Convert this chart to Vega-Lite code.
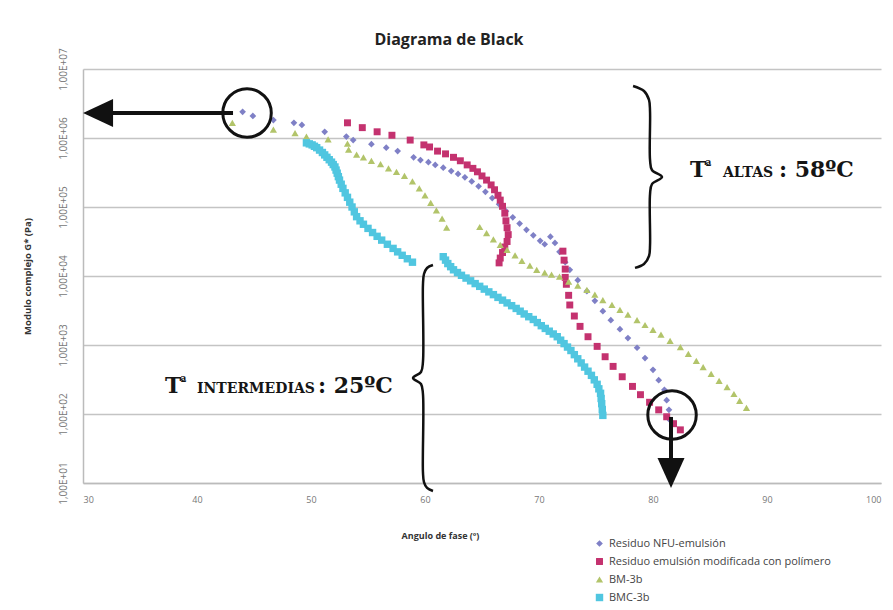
{
"$schema": "https://vega.github.io/schema/vega-lite/v6.json",
"width": 798, "height": 414,
"autosize": {"type": "none"},
"padding": {"left": 83, "top": 69, "right": 12, "bottom": 127},
"background": "white",
"title": {"text": "Diagrama de Black", "font": "Open Sans", "fontSize": 16, "fontWeight": "bold", "color": "#222222", "anchor": "middle", "dx": -33, "offset": 0},
"config": {"view": {"stroke": null}},
"datasets": {
"pts": [
{"s":"Residuo NFU-emulsión","a":44.0,"G":2399000},{"s":"Residuo NFU-emulsión","a":44.9,"G":2089000},{"s":"Residuo NFU-emulsión","a":46.7,"G":1820000},{"s":"Residuo NFU-emulsión","a":48.5,"G":1660000},{"s":"Residuo NFU-emulsión","a":49.2,"G":1549000},{"s":"Residuo NFU-emulsión","a":51.2,"G":1230000},{"s":"Residuo NFU-emulsión","a":53.1,"G":1047000},{"s":"Residuo NFU-emulsión","a":53.7,"G":933300},{"s":"Residuo NFU-emulsión","a":55.3,"G":812800},{"s":"Residuo NFU-emulsión","a":56.6,"G":724400},{"s":"Residuo NFU-emulsión","a":57.6,"G":645700},{"s":"Residuo NFU-emulsión","a":59.0,"G":524800},{"s":"Residuo NFU-emulsión","a":59.6,"G":478600},{"s":"Residuo NFU-emulsión","a":60.3,"G":446700},{"s":"Residuo NFU-emulsión","a":60.9,"G":407400},{"s":"Residuo NFU-emulsión","a":61.6,"G":371500},{"s":"Residuo NFU-emulsión","a":62.3,"G":331100},{"s":"Residuo NFU-emulsión","a":62.9,"G":302000},{"s":"Residuo NFU-emulsión","a":63.5,"G":269200},{"s":"Residuo NFU-emulsión","a":64.1,"G":234400},{"s":"Residuo NFU-emulsión","a":64.7,"G":199500},{"s":"Residuo NFU-emulsión","a":65.3,"G":166000},{"s":"Residuo NFU-emulsión","a":65.9,"G":134900},{"s":"Residuo NFU-emulsión","a":66.5,"G":109600},{"s":"Residuo NFU-emulsión","a":67.1,"G":87100},{"s":"Residuo NFU-emulsión","a":67.7,"G":70790},{"s":"Residuo NFU-emulsión","a":68.3,"G":57540},{"s":"Residuo NFU-emulsión","a":68.9,"G":46770},{"s":"Residuo NFU-emulsión","a":69.5,"G":38900},{"s":"Residuo NFU-emulsión","a":70.1,"G":32360},{"s":"Residuo NFU-emulsión","a":70.5,"G":28840},{"s":"Residuo NFU-emulsión","a":71.0,"G":37150},{"s":"Residuo NFU-emulsión","a":71.4,"G":30200},{"s":"Residuo NFU-emulsión","a":71.8,"G":22390},{"s":"Residuo NFU-emulsión","a":72.3,"G":15850},{"s":"Residuo NFU-emulsión","a":72.7,"G":12300},{"s":"Residuo NFU-emulsión","a":73.4,"G":8710},{"s":"Residuo NFU-emulsión","a":74.2,"G":6026},{"s":"Residuo NFU-emulsión","a":74.9,"G":4365},{"s":"Residuo NFU-emulsión","a":75.6,"G":3090},{"s":"Residuo NFU-emulsión","a":76.3,"G":2291},{"s":"Residuo NFU-emulsión","a":77.1,"G":1698},{"s":"Residuo NFU-emulsión","a":77.8,"G":1259},{"s":"Residuo NFU-emulsión","a":78.6,"G":912},{"s":"Residuo NFU-emulsión","a":79.3,"G":645.7},{"s":"Residuo NFU-emulsión","a":80.0,"G":436.5},{"s":"Residuo NFU-emulsión","a":80.5,"G":309},{"s":"Residuo NFU-emulsión","a":81.0,"G":223.9},{"s":"Residuo NFU-emulsión","a":81.2,"G":158.5},{"s":"Residuo NFU-emulsión","a":81.4,"G":114.8},{"s":"Residuo NFU-emulsión","a":81.5,"G":81.3},
{"s":"Residuo emulsión modificada con polímero","a":53.2,"G":1660000},{"s":"Residuo emulsión modificada con polímero","a":54.5,"G":1413000},{"s":"Residuo emulsión modificada con polímero","a":55.8,"G":1230000},{"s":"Residuo emulsión modificada con polímero","a":57.1,"G":1096000},{"s":"Residuo emulsión modificada con polímero","a":58.7,"G":933300},{"s":"Residuo emulsión modificada con polímero","a":59.9,"G":794300},{"s":"Residuo emulsión modificada con polímero","a":60.4,"G":741300},{"s":"Residuo emulsión modificada con polímero","a":61.1,"G":645700},{"s":"Residuo emulsión modificada con polímero","a":61.8,"G":588800},{"s":"Residuo emulsión modificada con polímero","a":62.5,"G":524800},{"s":"Residuo emulsión modificada con polímero","a":63.1,"G":467700},{"s":"Residuo emulsión modificada con polímero","a":63.7,"G":407400},{"s":"Residuo emulsión modificada con polímero","a":64.2,"G":363100},{"s":"Residuo emulsión modificada con polímero","a":64.6,"G":323600},{"s":"Residuo emulsión modificada con polímero","a":65.0,"G":281800},{"s":"Residuo emulsión modificada con polímero","a":65.4,"G":245500},{"s":"Residuo emulsión modificada con polímero","a":65.8,"G":208900},{"s":"Residuo emulsión modificada con polímero","a":66.1,"G":177800},{"s":"Residuo emulsión modificada con polímero","a":66.4,"G":147900},{"s":"Residuo emulsión modificada con polímero","a":66.6,"G":125900},{"s":"Residuo emulsión modificada con polímero","a":66.8,"G":102300},{"s":"Residuo emulsión modificada con polímero","a":67.0,"G":81280},{"s":"Residuo emulsión modificada con polímero","a":67.1,"G":63100},{"s":"Residuo emulsión modificada con polímero","a":67.2,"G":50120},{"s":"Residuo emulsión modificada con polímero","a":67.3,"G":39810},{"s":"Residuo emulsión modificada con polímero","a":67.2,"G":31620},{"s":"Residuo emulsión modificada con polímero","a":67.0,"G":26300},{"s":"Residuo emulsión modificada con polímero","a":66.8,"G":21880},{"s":"Residuo emulsión modificada con polímero","a":66.6,"G":18200},{"s":"Residuo emulsión modificada con polímero","a":66.5,"G":15490},
{"s":"Residuo emulsión modificada con polímero","a":72.1,"G":22910},{"s":"Residuo emulsión modificada con polímero","a":72.2,"G":16980},{"s":"Residuo emulsión modificada con polímero","a":72.3,"G":12590},{"s":"Residuo emulsión modificada con polímero","a":72.3,"G":9550},{"s":"Residuo emulsión modificada con polímero","a":72.4,"G":7586},{"s":"Residuo emulsión modificada con polímero","a":72.6,"G":5248},{"s":"Residuo emulsión modificada con polímero","a":72.7,"G":3802},{"s":"Residuo emulsión modificada con polímero","a":73.1,"G":2630},{"s":"Residuo emulsión modificada con polímero","a":73.6,"G":1862},{"s":"Residuo emulsión modificada con polímero","a":74.3,"G":1318},{"s":"Residuo emulsión modificada con polímero","a":75.1,"G":955},{"s":"Residuo emulsión modificada con polímero","a":75.8,"G":676.1},{"s":"Residuo emulsión modificada con polímero","a":76.5,"G":489.8},{"s":"Residuo emulsión modificada con polímero","a":77.3,"G":346.7},{"s":"Residuo emulsión modificada con polímero","a":78.2,"G":251.2},{"s":"Residuo emulsión modificada con polímero","a":78.9,"G":190.5},{"s":"Residuo emulsión modificada con polímero","a":79.7,"G":147.9},{"s":"Residuo emulsión modificada con polímero","a":80.5,"G":114.8},{"s":"Residuo emulsión modificada con polímero","a":81.2,"G":91.2},{"s":"Residuo emulsión modificada con polímero","a":81.8,"G":72.4},{"s":"Residuo emulsión modificada con polímero","a":82.4,"G":58.9},
{"s":"BM-3b","a":43.1,"G":1660000},{"s":"BM-3b","a":46.7,"G":1318000},{"s":"BM-3b","a":48.6,"G":1175000},{"s":"BM-3b","a":49.6,"G":1047000},{"s":"BM-3b","a":51.5,"G":955000},{"s":"BM-3b","a":53.2,"G":831800},{"s":"BM-3b","a":53.3,"G":676100},{"s":"BM-3b","a":54.0,"G":575400},{"s":"BM-3b","a":54.6,"G":524800},{"s":"BM-3b","a":55.3,"G":467700},{"s":"BM-3b","a":56.1,"G":416900},{"s":"BM-3b","a":56.8,"G":363100},{"s":"BM-3b","a":57.5,"G":323600},{"s":"BM-3b","a":58.2,"G":281800},{"s":"BM-3b","a":58.9,"G":234400},{"s":"BM-3b","a":59.5,"G":186200},{"s":"BM-3b","a":60.0,"G":147900},{"s":"BM-3b","a":60.5,"G":114800},{"s":"BM-3b","a":61.0,"G":89130},{"s":"BM-3b","a":61.5,"G":67610},{"s":"BM-3b","a":61.9,"G":50120},
{"s":"BM-3b","a":64.8,"G":51290},{"s":"BM-3b","a":65.4,"G":41690},{"s":"BM-3b","a":66.0,"G":33880},{"s":"BM-3b","a":66.6,"G":28180},{"s":"BM-3b","a":67.2,"G":23990},{"s":"BM-3b","a":67.9,"G":19950},{"s":"BM-3b","a":68.5,"G":16600},{"s":"BM-3b","a":69.2,"G":14130},{"s":"BM-3b","a":69.8,"G":12300},{"s":"BM-3b","a":70.5,"G":11220},{"s":"BM-3b","a":71.1,"G":10470},{"s":"BM-3b","a":71.8,"G":9772},{"s":"BM-3b","a":72.6,"G":8318},{"s":"BM-3b","a":73.4,"G":7244},{"s":"BM-3b","a":74.2,"G":6310},{"s":"BM-3b","a":74.9,"G":5370},{"s":"BM-3b","a":75.6,"G":4467},{"s":"BM-3b","a":76.4,"G":3802},{"s":"BM-3b","a":77.1,"G":3236},{"s":"BM-3b","a":77.8,"G":2754},{"s":"BM-3b","a":78.6,"G":2291},{"s":"BM-3b","a":79.3,"G":1950},{"s":"BM-3b","a":80.0,"G":1660},{"s":"BM-3b","a":80.7,"G":1413},{"s":"BM-3b","a":81.5,"G":1148},{"s":"BM-3b","a":82.4,"G":933.3},{"s":"BM-3b","a":83.1,"G":741.3},{"s":"BM-3b","a":83.8,"G":588.8},{"s":"BM-3b","a":84.4,"G":478.6},{"s":"BM-3b","a":85.1,"G":380.2},{"s":"BM-3b","a":85.8,"G":302},{"s":"BM-3b","a":86.5,"G":245.5},{"s":"BM-3b","a":87.1,"G":195},{"s":"BM-3b","a":87.6,"G":154.9},{"s":"BM-3b","a":88.2,"G":123},
{"s":"BMC-3b","a":49.6,"G":851100},{"s":"BMC-3b","a":49.85,"G":822200},{"s":"BMC-3b","a":50.1,"G":794300},{"s":"BMC-3b","a":50.3,"G":758600},{"s":"BMC-3b","a":50.5,"G":724400},{"s":"BMC-3b","a":50.75,"G":668300},{"s":"BMC-3b","a":51.0,"G":616600},{"s":"BMC-3b","a":51.2,"G":568900},{"s":"BMC-3b","a":51.4,"G":524800},{"s":"BMC-3b","a":51.6,"G":484200},{"s":"BMC-3b","a":51.8,"G":446700},{"s":"BMC-3b","a":51.95,"G":412100},{"s":"BMC-3b","a":52.1,"G":380200},{"s":"BMC-3b","a":52.2,"G":342800},{"s":"BMC-3b","a":52.3,"G":309000},{"s":"BMC-3b","a":52.4,"G":275400},{"s":"BMC-3b","a":52.5,"G":245500},{"s":"BMC-3b","a":52.65,"G":213800},{"s":"BMC-3b","a":52.8,"G":186200},{"s":"BMC-3b","a":53.0,"G":160300},{"s":"BMC-3b","a":53.2,"G":138000},{"s":"BMC-3b","a":53.4,"G":117500},{"s":"BMC-3b","a":53.6,"G":100000},{"s":"BMC-3b","a":53.8,"G":85110},{"s":"BMC-3b","a":54.0,"G":72440},{"s":"BMC-3b","a":54.3,"G":63100},{"s":"BMC-3b","a":54.6,"G":56230},{"s":"BMC-3b","a":55.0,"G":48980},{"s":"BMC-3b","a":55.4,"G":42660},{"s":"BMC-3b","a":55.8,"G":37580},{"s":"BMC-3b","a":56.2,"G":33110},{"s":"BMC-3b","a":56.7,"G":28840},{"s":"BMC-3b","a":57.2,"G":25120},{"s":"BMC-3b","a":57.6,"G":22390},{"s":"BMC-3b","a":58.0,"G":19950},{"s":"BMC-3b","a":58.45,"G":17780},{"s":"BMC-3b","a":58.9,"G":15850},
{"s":"BMC-3b","a":61.6,"G":19050},{"s":"BMC-3b","a":61.8,"G":16980},{"s":"BMC-3b","a":62.0,"G":15140},{"s":"BMC-3b","a":62.25,"G":13650},{"s":"BMC-3b","a":62.5,"G":12300},{"s":"BMC-3b","a":62.85,"G":11220},{"s":"BMC-3b","a":63.2,"G":10230},{"s":"BMC-3b","a":63.6,"G":9333},{"s":"BMC-3b","a":64.0,"G":8511},{"s":"BMC-3b","a":64.4,"G":7762},{"s":"BMC-3b","a":64.8,"G":7079},{"s":"BMC-3b","a":65.2,"G":6457},{"s":"BMC-3b","a":65.6,"G":5888},{"s":"BMC-3b","a":66.0,"G":5370},{"s":"BMC-3b","a":66.4,"G":4898},{"s":"BMC-3b","a":66.8,"G":4467},{"s":"BMC-3b","a":67.2,"G":4074},{"s":"BMC-3b","a":67.6,"G":3715},{"s":"BMC-3b","a":68.0,"G":3388},{"s":"BMC-3b","a":68.35,"G":3090},{"s":"BMC-3b","a":68.7,"G":2818},{"s":"BMC-3b","a":69.1,"G":2570},{"s":"BMC-3b","a":69.5,"G":2344},{"s":"BMC-3b","a":69.85,"G":2113},{"s":"BMC-3b","a":70.2,"G":1905},{"s":"BMC-3b","a":70.55,"G":1738},{"s":"BMC-3b","a":70.9,"G":1585},{"s":"BMC-3b","a":71.25,"G":1445},{"s":"BMC-3b","a":71.6,"G":1318},{"s":"BMC-3b","a":71.9,"G":1175},{"s":"BMC-3b","a":72.2,"G":1047},{"s":"BMC-3b","a":72.5,"G":933.3},{"s":"BMC-3b","a":72.8,"G":831.8},{"s":"BMC-3b","a":73.1,"G":724.4},{"s":"BMC-3b","a":73.4,"G":631},{"s":"BMC-3b","a":73.7,"G":549.5},{"s":"BMC-3b","a":74.0,"G":478.6},{"s":"BMC-3b","a":74.3,"G":416.9},{"s":"BMC-3b","a":74.6,"G":363.1},{"s":"BMC-3b","a":74.85,"G":312.6},{"s":"BMC-3b","a":75.1,"G":269.2},{"s":"BMC-3b","a":75.25,"G":231.7},{"s":"BMC-3b","a":75.4,"G":199.5},{"s":"BMC-3b","a":75.45,"G":167.9},{"s":"BMC-3b","a":75.5,"G":141.3},{"s":"BMC-3b","a":75.55,"G":116.1},{"s":"BMC-3b","a":75.6,"G":95.5}
],
"circ": [{"a":44.39,"G":2300000},{"a":81.67,"G":96.8}],
"arrows": [{"a":32.63,"a2":43.16,"G":2300000,"G2":2300000},{"a":81.58,"a2":81.58,"G":90.6,"G2":21.5}],
"headL": [{"a":31.32,"G":2300000}],
"headD": [{"a":81.58,"G":13.96}],
"brace": [
{"id":"R","o":1,"a":78.25,"G":5675000},{"id":"R","o":2,"a":79.21,"G":4800000},{"id":"R","o":3,"a":79.65,"G":3560000},{"id":"R","o":4,"a":79.74,"G":2380000},{"id":"R","o":5,"a":79.74,"G":480000},{"id":"R","o":6,"a":79.91,"G":344000},{"id":"R","o":7,"a":80.79,"G":272000},{"id":"R","o":8,"a":79.91,"G":215000},{"id":"R","o":9,"a":79.74,"G":154000},{"id":"R","o":10,"a":79.74,"G":28100},{"id":"R","o":11,"a":79.65,"G":19500},{"id":"R","o":12,"a":79.21,"G":14900},{"id":"R","o":13,"a":78.42,"G":13100},
{"id":"L","o":1,"a":60.70,"G":14420},{"id":"L","o":2,"a":60.18,"G":13060},{"id":"L","o":3,"a":59.91,"G":10690},{"id":"L","o":4,"a":59.82,"G":7413},{"id":"L","o":5,"a":59.82,"G":567.5},{"id":"L","o":6,"a":59.65,"G":406.4},{"id":"L","o":7,"a":58.95,"G":332.7},{"id":"L","o":8,"a":59.65,"G":272.3},{"id":"L","o":9,"a":59.82,"G":195.0},{"id":"L","o":10,"a":59.82,"G":14.42},{"id":"L","o":11,"a":59.91,"G":10.33},{"id":"L","o":12,"a":60.18,"G":8.47},{"id":"L","o":13,"a":60.70,"G":7.66}
],
"txtBig": [{"a":83.25,"G":272300,"t":"T"},{"a":91.05,"G":272300,"t":": 58ºC"},{"a":37.19,"G":201.4,"t":"T"},{"a":50.61,"G":201.4,"t":": 25ºC"}],
"txtSup": [{"a":84.6,"G":272300,"t":"ª"},{"a":38.55,"G":201.4,"t":"ª"}],
"txtSmall": [{"a":86.14,"G":272300,"t":"ALTAS"},{"a":40.0,"G":201.4,"t":"INTERMEDIAS"}]
},
"layer": [
{
"data": {"name": "pts"},
"mark": {"type": "point", "filled": true, "opacity": 1},
"encoding": {
"x": {"field": "a", "type": "quantitative", "scale": {"domain": [30, 100], "nice": false, "zero": false},
 "axis": {"values": [30,40,50,60,70,80,90,100], "grid": false, "ticks": false, "domainColor": "#bbbbbb", "domainWidth": 1.5, "labelFont": "Open Sans", "labelFontSize": 9, "labelColor": "#777777", "labelPadding": 12, "title": "Angulo de fase (º)", "titleFont": "Open Sans", "titleFontSize": 9, "titleFontWeight": "bold", "titleColor": "#333333", "titlePadding": 27, "titleX": 357}},
"y": {"field": "G", "type": "quantitative", "scale": {"type": "log", "domain": [10, 10000000], "nice": false},
 "axis": {"values": [10,100,1000,10000,100000,1000000,10000000], "labelExpr": "'1,00E+0' + format(log(datum.value)/LN10, '.0f')", "grid": true, "gridColor": "#c4c4c4", "gridWidth": 1.5, "ticks": false, "domainColor": "#bbbbbb", "domainWidth": 1.5, "labelAngle": 270, "labelAlign": "center", "labelBaseline": "middle", "labelPadding": 20, "labelFont": "Open Sans", "labelFontSize": 10, "labelColor": "#777777", "labelOverlap": false, "title": "Modulo complejo G* (Pa)", "titleFont": "Open Sans", "titleFontSize": 9.5, "titleFontWeight": "bold", "titleColor": "#333333", "titlePadding": 26}},
"color": {"field": "s", "type": "nominal", "scale": {"domain": ["Residuo NFU-emulsión","Residuo emulsión modificada con polímero","BM-3b","BMC-3b"], "range": ["#7F80C6","#C4326F","#B2C46A","#50C6E0"]},
 "legend": {"title": null, "orient": "none", "legendX": 511, "legendY": 469, "labelFont": "Open Sans", "labelFontSize": 11, "labelColor": "#444444", "labelLimit": 0, "symbolSize": 40, "rowPadding": 6, "labelOffset": 4}},
"shape": {"field": "s", "type": "nominal", "scale": {"domain": ["Residuo NFU-emulsión","Residuo emulsión modificada con polímero","BM-3b","BMC-3b"], "range": ["diamond","square","triangle-up","square"]},
 "legend": {"title": null, "orient": "none", "legendX": 511, "legendY": 469, "labelFont": "Open Sans", "labelFontSize": 11, "labelColor": "#444444", "labelLimit": 0, "symbolSize": 40, "rowPadding": 6, "labelOffset": 4}},
"size": {"field": "s", "type": "nominal", "scale": {"domain": ["Residuo NFU-emulsión","Residuo emulsión modificada con polímero","BM-3b","BMC-3b"], "range": [45, 55, 42, 34]}, "legend": null}
}
},
{
"data": {"name": "brace"},
"mark": {"type": "line", "interpolate": "catmull-rom", "color": "#111111", "strokeWidth": 2.5},
"encoding": {"x": {"field": "a", "type": "quantitative"}, "y": {"field": "G", "type": "quantitative"}, "detail": {"field": "id"}, "order": {"field": "o", "type": "quantitative"}}
},
{
"data": {"name": "circ"},
"mark": {"type": "point", "shape": "circle", "filled": false, "stroke": "#111111", "strokeWidth": 3, "size": 2350, "opacity": 1},
"encoding": {"x": {"field": "a", "type": "quantitative"}, "y": {"field": "G", "type": "quantitative"}}
},
{
"data": {"name": "arrows"},
"mark": {"type": "rule", "color": "#111111", "strokeWidth": 4},
"encoding": {"x": {"field": "a", "type": "quantitative"}, "x2": {"field": "a2"}, "y": {"field": "G", "type": "quantitative"}, "y2": {"field": "G2"}}
},
{
"data": {"name": "headL"},
"mark": {"type": "point", "shape": "M-1,0L1,-0.93L1,0.93Z", "filled": true, "color": "#111111", "size": 900, "opacity": 1},
"encoding": {"x": {"field": "a", "type": "quantitative"}, "y": {"field": "G", "type": "quantitative"}}
},
{
"data": {"name": "headD"},
"mark": {"type": "point", "shape": "M0,1L-0.9,-1L0.9,-1Z", "filled": true, "color": "#111111", "size": 900, "opacity": 1},
"encoding": {"x": {"field": "a", "type": "quantitative"}, "y": {"field": "G", "type": "quantitative"}}
},
{
"data": {"name": "txtBig"},
"mark": {"type": "text", "font": "DejaVu Serif", "fontWeight": "bold", "fontSize": 22, "align": "left", "baseline": "alphabetic", "color": "#151515"},
"encoding": {"x": {"field": "a", "type": "quantitative"}, "y": {"field": "G", "type": "quantitative"}, "text": {"field": "t"}}
},
{
"data": {"name": "txtSup"},
"mark": {"type": "text", "font": "DejaVu Serif", "fontWeight": "bold", "fontSize": 12, "align": "left", "baseline": "alphabetic", "dy": -8, "color": "#151515"},
"encoding": {"x": {"field": "a", "type": "quantitative"}, "y": {"field": "G", "type": "quantitative"}, "text": {"field": "t"}}
},
{
"data": {"name": "txtSmall"},
"mark": {"type": "text", "font": "DejaVu Serif", "fontWeight": "bold", "fontSize": 14, "align": "left", "baseline": "alphabetic", "color": "#151515"},
"encoding": {"x": {"field": "a", "type": "quantitative"}, "y": {"field": "G", "type": "quantitative"}, "text": {"field": "t"}}
}
]
}
